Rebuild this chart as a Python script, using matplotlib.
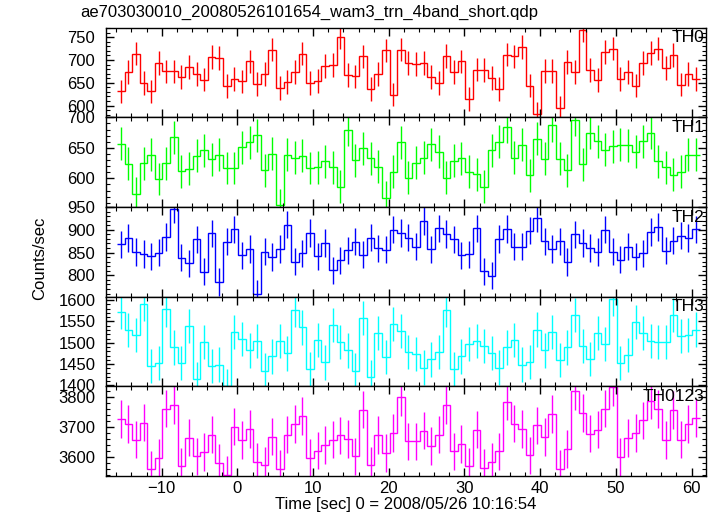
import matplotlib
matplotlib.use('Agg')
from matplotlib import pyplot as plt
from matplotlib.ticker import MultipleLocator
import numpy as np

plt.rcParams['font.family'] = ['Liberation Sans', 'DejaVu Sans']

# light curve: 1 s bins, first bin starts at -15.9 s
t_start = -15.9
bin_width = 1.0

th0 = [631, 674, 714, 650, 631, 693, 675, 675, 663, 684, 670, 657, 706, 705, 643, 659,
       653, 697, 648, 670, 723, 639, 652, 674, 714, 649, 654, 687, 689, 751, 667, 664,
       708, 636, 670, 721, 624, 723, 693, 691, 694, 663, 649, 709, 674, 697, 614, 679,
       678, 661, 636, 712, 708, 729, 644, 582, 676, 676, 594, 696, 673, 766, 678, 656,
       718, 725, 658, 674, 644, 693, 716, 725, 682, 711, 646, 669, 659]
th1 = [657, 624, 575, 625, 639, 599, 625, 667, 612, 616, 637, 646, 631, 639, 617, 617,
       651, 659, 671, 613, 640, 556, 639, 634, 637, 617, 618, 628, 618, 586, 680, 630,
       649, 633, 619, 568, 611, 659, 601, 626, 634, 656, 644, 601, 629, 633, 611, 607,
       586, 646, 660, 685, 634, 655, 605, 665, 632, 687, 632, 613, 696, 623, 675, 661,
       647, 653, 655, 654, 644, 661, 675, 628, 618, 606, 611, 639, 639]
th2 = [868, 882, 851, 847, 842, 850, 884, 946, 839, 826, 879, 808, 892, 785, 874, 901,
       844, 858, 760, 852, 840, 858, 911, 830, 848, 893, 842, 871, 811, 833, 855, 874,
       845, 883, 859, 856, 900, 893, 883, 863, 919, 857, 903, 891, 879, 844, 846, 903,
       809, 799, 880, 902, 863, 863, 898, 926, 875, 858, 875, 829, 890, 871, 860, 851,
       900, 852, 834, 863, 841, 848, 895, 906, 854, 876, 887, 882, 901]
th3 = [1573, 1529, 1519, 1592, 1446, 1453, 1578, 1489, 1453, 1540, 1415, 1502, 1446, 1449,
       1398, 1525, 1508, 1482, 1504, 1435, 1468, 1505, 1475, 1576, 1536, 1438, 1507, 1454,
       1541, 1502, 1482, 1435, 1559, 1419, 1523, 1467, 1544, 1527, 1479, 1473, 1442, 1461,
       1479, 1576, 1438, 1468, 1498, 1504, 1493, 1476, 1442, 1489, 1506, 1449, 1456, 1531,
       1482, 1526, 1459, 1489, 1565, 1493, 1463, 1522, 1498, 1602, 1453, 1472, 1549, 1522,
       1504, 1501, 1501, 1565, 1515, 1519, 1531]
th0123 = [3728, 3710, 3658, 3715, 3558, 3596, 3762, 3775, 3568, 3665, 3602, 3616, 3675, 3581,
          3540, 3702, 3657, 3694, 3584, 3572, 3668, 3561, 3675, 3711, 3738, 3598, 3621, 3640,
          3658, 3672, 3661, 3602, 3759, 3572, 3673, 3613, 3681, 3800, 3652, 3652, 3688, 3636,
          3675, 3774, 3619, 3643, 3568, 3692, 3564, 3583, 3619, 3786, 3712, 3694, 3605, 3706,
          3667, 3745, 3561, 3626, 3822, 3748, 3678, 3692, 3762, 3834, 3599, 3664, 3680, 3723,
          3789, 3761, 3657, 3757, 3658, 3710, 3731]

# 1 sigma error per band (counts/sec)
errors = [26, 27, 30, 40, 63]

names = ['TH0', 'TH1', 'TH2', 'TH3', 'TH0123']
colors = ['#ff0000', '#00ff00', '#0000ff', '#00ffff', '#ff00ff']
ylims = [(574, 771), (553, 700), (753, 950), (1398, 1608), (3536, 3837)]
ymajor = [50, 50, 50, 50, 100]
yminor = [10, 10, 10, 10, 20]

series = [th0, th1, th2, th3, th0123]

fig, axes = plt.subplots(5, 1, figsize=(7.17, 5.16), dpi=100, sharex=True)
fig.subplots_adjust(left=0.1485, right=0.9845, top=0.9463, bottom=0.0775, hspace=0)

for i, ax in enumerate(axes):
    vals = np.array(series[i])
    n = len(vals)
    edges = t_start + bin_width * np.arange(n + 1)
    centers = edges[:-1] + bin_width / 2
    ax.stairs(vals, edges, baseline=None, color=colors[i], linewidth=1.0)
    ax.errorbar(centers, vals, yerr=errors[i], fmt='none', ecolor=colors[i],
                elinewidth=1.0, capsize=0)
    ax.set_ylim(ylims[i])
    ax.set_xlim(-17.3, 61.9)
    ax.yaxis.set_major_locator(MultipleLocator(ymajor[i]))
    ax.yaxis.set_minor_locator(MultipleLocator(yminor[i]))
    ax.xaxis.set_major_locator(MultipleLocator(10))
    ax.xaxis.set_minor_locator(MultipleLocator(2))
    ax.tick_params(which='both', direction='in', top=True, right=True, labelsize=12)
    ax.tick_params(axis='y', pad=8)
    ax.tick_params(which='major', length=6, width=1)
    ax.tick_params(which='minor', length=3, width=0.8)
    ax.text(0.998, 0.97, names[i], transform=ax.transAxes, ha='right', va='top',
            fontsize=12.5)
    for s in ax.spines.values():
        s.set_linewidth(1.0)

axes[-1].set_xlabel('Time [sec] 0 = 2008/05/26 10:16:54', fontsize=12, labelpad=1)
fig.text(0.055, 0.5, 'Counts/sec', rotation=90, ha='center', va='center', fontsize=12)
fig.text(0.112, 0.975, 'ae703030010_20080526101654_wam3_trn_4band_short.qdp',
         ha='left', va='center', fontsize=12)

plt.savefig('out.png')
